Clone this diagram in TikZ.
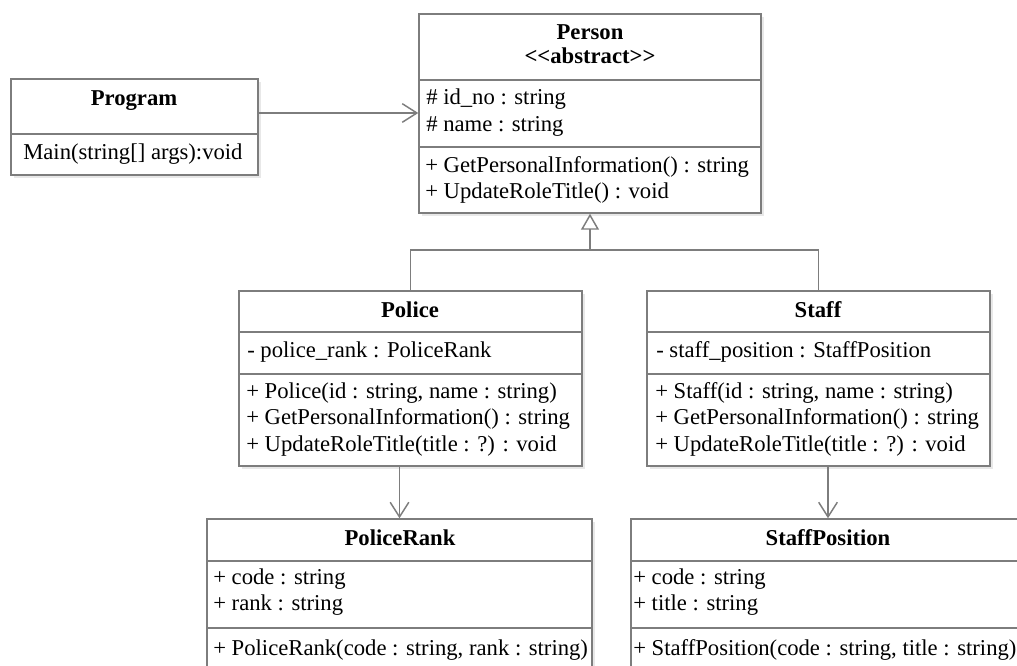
\documentclass[tikz,border=0pt]{standalone}
\usepackage{fontspec}
\setmainfont{Liberation Serif}[Ligatures=TeXOff]
\usetikzlibrary{fit,arrows.meta,shadows}
\definecolor{lc}{RGB}{125,125,125}
\begin{document}
\begin{tikzpicture}[x=0.75pt,y=-0.75pt,
  umlbox/.style={draw=lc, line width=1.1pt, fill=white, inner sep=0pt,
    drop shadow={opacity=0.18, shadow xshift=2pt, shadow yshift=-2pt}},
  sepl/.style={draw=lc, line width=1.1pt},
  conn/.style={draw=lc, line width=1.1pt},
  assoc/.style={conn, -{Straight Barb[length=11pt,width=14pt,line width=1.1pt]}},
  gen/.style={conn, -{Triangle[open,length=12pt,width=13.5pt,line width=1.1pt,fill=white]}},
  txt/.style={anchor=base west, inner sep=0pt, font=\fontsize{17}{20}\selectfont},
  ttl/.style={anchor=base, inner sep=0pt, font=\bfseries\fontsize{17}{20}\selectfont}]
\useasboundingbox (0,0) rectangle (1017,666);
\clip (0,0) rectangle (1017,666);
\fill[white] (0,0) rectangle (1017,666);

% Program
\node[umlbox, fit={(11,79) (258,175)}] (prog) {};
\draw[sepl] (prog.west |- 0,134) -- (prog.east |- 0,134);
\node[ttl] (tprog) at (134,106) {Program};
\node[txt] (tmain) at (23,160) {Main(string[] args):void};

% Person
\node[umlbox, fit={(419,14) (761,213)}] (person) {};
\draw[sepl] (person.west |- 0,80) -- (person.east |- 0,80);
\draw[sepl] (person.west |- 0,147) -- (person.east |- 0,147);
\node[ttl] (tpers) at (590,40) {Person};
\node[ttl] (tabs) at (590,64) {\textless\textless abstract\textgreater\textgreater};
\node[txt] (pa1) at (426,105) {\# id\_no : string};
\node[txt] (pa2) at (426,132) {\# name : string};
\node[txt] (pm1) at (425,173) {+ GetPersonalInformation() : string};
\node[txt] (pm2) at (425,199) {+ UpdateRoleTitle() : void};

% Police
\node[umlbox, fit={(239,291) (582,466)}] (police) {};
\draw[sepl] (police.west |- 0,332) -- (police.east |- 0,332);
\draw[sepl] (police.west |- 0,374) -- (police.east |- 0,374);
\node[ttl] (tpol) at (410,318) {Police};
\node[txt] (qa1) at (247,358) {- police\_rank : PoliceRank};
\node[txt] (qm1) at (246,398) {+ Police(id : string, name : string)};
\node[txt] (qm2) at (246,424) {+ GetPersonalInformation() : string};
\node[txt] (qm3) at (246,451) {+ UpdateRoleTitle(title : ?) : void};

% Staff
\node[umlbox, fit={(647,291) (990,466)}] (staff) {};
\draw[sepl] (staff.west |- 0,332) -- (staff.east |- 0,332);
\draw[sepl] (staff.west |- 0,374) -- (staff.east |- 0,374);
\node[ttl] (tstf) at (818,318) {Staff};
\node[txt] (sa1) at (656,358) {- staff\_position : StaffPosition};
\node[txt] (sm1) at (655,398) {+ Staff(id : string, name : string)};
\node[txt] (sm2) at (655,424) {+ GetPersonalInformation() : string};
\node[txt] (sm3) at (655,451) {+ UpdateRoleTitle(title : ?) : void};

% PoliceRank
\node[umlbox, fit={(207,519) (592,720)}] (prank) {};
\draw[sepl] (prank.west |- 0,561) -- (prank.east |- 0,561);
\draw[sepl] (prank.west |- 0,628) -- (prank.east |- 0,628);
\node[ttl] (tpr) at (400,545) {PoliceRank};
\node[txt] (ra1) at (213,584) {+ code : string};
\node[txt] (ra2) at (213,610) {+ rank : string};
\node[txt] (rm1) at (213,655) {+ PoliceRank(code : string, rank : string)};

% StaffPosition
\node[umlbox, fit={(631,519) (1025,720)}] (spos) {};
\draw[sepl] (spos.west |- 0,561) -- (spos.east |- 0,561);
\draw[sepl] (spos.west |- 0,628) -- (spos.east |- 0,628);
\node[ttl] (tsp) at (828,545) {StaffPosition};
\node[txt] (xa1) at (633,584) {+ code : string};
\node[txt] (xa2) at (633,610) {+ title : string};
\node[txt] (xm1) at (633,655) {+ StaffPosition(code : string, title : string)};

% connectors
\coordinate (pstart) at (prog.east |- 0,113);
\draw[assoc] (pstart) -- (pstart -| person.west);
\coordinate (junc) at (person.south |- 0,250);
\draw[conn] (police.north) |- (junc) -| (staff.north);
\draw[gen] (junc) -- (person.south);
\draw[assoc] (police.south -| prank.north) -- (prank.north);
\draw[assoc] (staff.south -| spos.north) -- (spos.north);
\end{tikzpicture}
\end{document}
